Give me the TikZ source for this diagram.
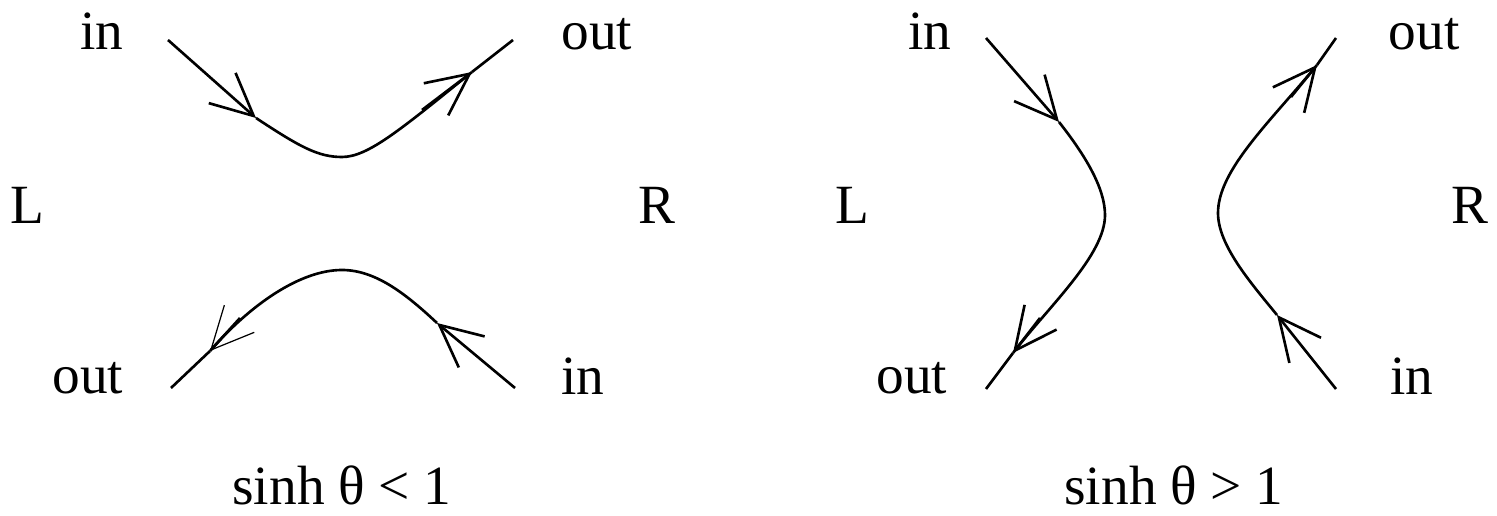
\documentclass[tikz,border=0pt]{standalone}
\usepackage{fontspec}
\setmainfont{Liberation Serif}
\usetikzlibrary{arrows.meta}
\begin{document}
\begin{tikzpicture}[x=0.02cm,y=-0.02cm,
  curve/.style={line width=1.5pt,line cap=butt},
  barb/.style={-{Straight Barb[length=24pt,width=23pt]}},
  thinbarb/.style={-{Straight Barb[length=24pt,width=23pt,line width=0.7pt]}},
  lbl/.style={font=\fontsize{31.5}{34}\selectfont,anchor=base,inner sep=0pt}]
\useasboundingbox (0,0) rectangle (1497,516);
% labels
\node[lbl] (inTL) at (102,50) {in};
\node[lbl] (outTL) at (597,50) {out};
\node[lbl] (L1) at (27,224) {L};
\node[lbl] (R1) at (657,224) {R};
\node[lbl] (outBL) at (88,394) {out};
\node[lbl] (inBL) at (583,395) {in};
\node[lbl] (cap1) at (342,504) {sinh θ < 1};
\node[lbl] (inTR) at (930,50) {in};
\node[lbl] (outTR) at (1424,50) {out};
\node[lbl] (L2) at (852,224) {L};
\node[lbl] (R2) at (1470,224) {R};
\node[lbl] (outBR) at (912,394) {out};
\node[lbl] (inBR) at (1412,395) {in};
\node[lbl] (cap2) at (1174,504) {sinh θ > 1};
% left panel, top curve
\coordinate (a1) at (168,40);
\coordinate (a2) at (256,118);
\coordinate (a3) at (342,157);
\coordinate (a4) at (472,72);
\coordinate (a5) at (513,40);
\draw[curve,barb] (a1) -- (a2);
\draw[curve] (a2) .. controls (300,147) and (318,157) .. (a3)
  .. controls (368,157) and (400,130) .. (a4);
\coordinate (a34) at (422,110);
\draw[curve,barb] (a34) -- (a4);
\draw[curve] (a4) -- (a5);
% left panel, bottom curve
\coordinate (b1) at (515,388);
\coordinate (b2) at (437,323);
\coordinate (b3) at (342,270);
\coordinate (b4) at (210,351);
\coordinate (b5) at (171,388);
\draw[curve,barb] (b1) -- (b2);
\draw[curve] (b2) .. controls (405,293) and (375,270) .. (b3)
  .. controls (300,270) and (250,305) .. (b4);
\coordinate (b34) at (240,318);
\draw[curve,thinbarb] (b34) -- (b4);
\draw[curve] (b4) -- (b5);
% right panel, left curve
\coordinate (c1) at (986,38);
\coordinate (c2) at (1059,122);
\coordinate (c3) at (1105,215);
\coordinate (c4) at (1013,353);
\coordinate (c5) at (986,389);
\draw[curve,barb] (c1) -- (c2);
\draw[curve] (c2) .. controls (1085,155) and (1105,188) .. (c3)
  .. controls (1105,255) and (1050,305) .. (c4);
\coordinate (c34) at (1040,318);
\draw[curve,barb] (c34) -- (c4);
\draw[curve] (c4) -- (c5);
% right panel, right curve
\coordinate (d1) at (1336,389);
\coordinate (d2) at (1277,315);
\coordinate (d3) at (1218,213);
\coordinate (d4) at (1317,65);
\coordinate (d5) at (1336,38);
\draw[curve,barb] (d1) -- (d2);
\draw[curve] (d2) .. controls (1250,282) and (1218,245) .. (d3)
  .. controls (1218,170) and (1270,122) .. (d4);
\coordinate (d34) at (1291,97);
\draw[curve,barb] (d34) -- (d4);
\draw[curve] (d4) -- (d5);
\end{tikzpicture}
\end{document}
